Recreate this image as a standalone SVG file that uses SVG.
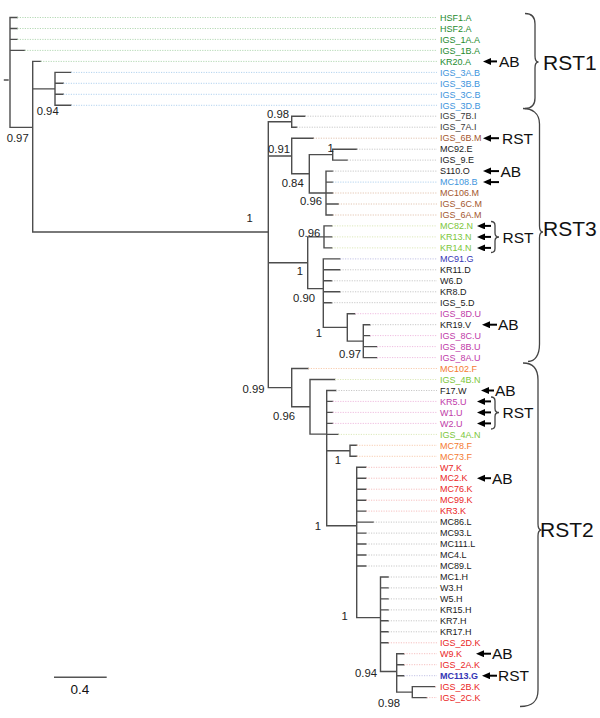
<svg xmlns="http://www.w3.org/2000/svg" width="600" height="718" viewBox="0 0 600 718">
<style>
.br{fill:none;stroke:#4d4d4d;stroke-width:1.4;stroke-linecap:square}
.dt{fill:none;stroke-width:1;stroke-dasharray:1.2 1.3}
.dA{stroke:#b5d9b5}.dB{stroke:#b3d3ef}.dK{stroke:#f6c0c0}.dM{stroke:#e3c6b3}.dN{stroke:#dde9bb}
.dG{stroke:#c3c3e6}.dU{stroke:#efbde0}.dF{stroke:#f8cdb0}.dX{stroke:#c8c8c8}
text{font-family:"Liberation Sans",Arial,sans-serif}
.lf{font-size:9px}
.A{fill:#238b2d}.B{fill:#3d95dd}.I{fill:#3a3a3a}.M{fill:#a4572e}.N{fill:#7cc63a}.G{fill:#3535b5}
.U{fill:#c03aa8}.F{fill:#f47a30}.K{fill:#ea2525}.X{fill:#1a1a1a}
.sp{font-size:11.3px;fill:#222}
.an{font-size:15.5px;fill:#111}
.cl{font-size:21px;fill:#111}
.ar{stroke:#000;stroke-width:2;fill:none}
.bc{fill:none;stroke:#444;stroke-width:1.3}
</style>
<defs>
<marker id="ah" markerUnits="userSpaceOnUse" markerWidth="9" markerHeight="8" refX="2" refY="3.5" orient="auto"><path d="M0,0 L8,3.5 L0,7 z" fill="#000"/></marker>
</defs>
<g id="connectors">
<path class="br" d="M4.5,80H8 M10,17.5V127.4 M10,17.5H17.3 M10,28.5H17.3 M10,39.4H17.3 M10,50.4H24.7 M10,127.4H32.7
M32.7,61.4V232.05 M32.7,61.4H40.7 M32.7,88.85H55 M32.7,232.05H268.3
M55,72.4V105.3 M55,72.4H71 M55,83.3H63.3 M55,94.3H63.3 M55,105.3H71
M268.3,121.7V387.65 M268.3,121.7H291.7 M268.3,156.05H291.7 M268.3,262.75H307.7 M268.3,387.65H291.7
M291.7,116.2V127.2 M291.7,116.2H305 M291.7,127.2H296.7
M291.7,138.2V173.8 M291.7,138.2H313.3 M291.7,173.8H309.3
M309.3,154.65V193 M309.3,154.65H332.7 M309.3,193H326
M332.7,149.2V160.1 M332.7,149.2H356.7 M332.7,160.1H347.3
M326,171.1V215 M326,171.1H332.7 M326,182.1H332.7 M326,193H332.7 M326,204H338.3 M326,215H332.7
M307.7,236.9V288.6 M307.7,236.9H324 M307.7,288.6H323.3
M324,225.9V247.9 M324,225.9H332 M324,236.9H332 M324,247.9H332
M323.3,258.9V327.4 M323.3,258.9H340 M323.3,269.8H340 M323.3,280.8H331.7 M323.3,291.8H340 M323.3,302.7H331.7 M323.3,327.4H347.3
M347.3,313.7V341.1 M347.3,313.7H355 M347.3,341.1H363.3
M363.3,324.7V357.6 M363.3,324.7H370 M363.3,335.6H370 M363.3,346.6H377 M363.3,357.6H377
M291.7,368.5V406.8 M291.7,368.5H308.3 M291.7,406.8H310
M310,379.5V434.1 M310,379.5H335 M310,434.1H326.7
M326.7,390.5V525.7 M326.7,390.5H336 M326.7,401.4H332.7 M326.7,412.4H332.7 M326.7,423.4H332.7 M326.7,434.4H338.3 M326.7,450.8H350 M326.7,525.7H356.7
M350,445.3V456.3 M350,445.3H356.7 M350,456.3H356.7
M356.7,467.3V617.6 M356.7,467.3H366 M356.7,478.2H366 M356.7,489.2H366 M356.7,500.2H366 M356.7,511.1H366 M356.7,522.1H373.3 M356.7,533.1H366 M356.7,544H366 M356.7,555H366 M356.7,566H366 M356.7,617.6H380.5
M380.5,577V671.55 M380.5,577H388.3 M380.5,587.9H388.3 M380.5,598.9H388.3 M380.5,609.9H388.3 M380.5,620.8H388.3 M380.5,631.8H388.3 M380.5,642.8H388.3 M380.5,671.55H396.7
M396.7,653.7V692.1 M396.7,653.7H404 M396.7,664.7H404 M396.7,675.7H404 M396.7,692.1H412.3
M412.3,686.6V697.6 M412.3,686.6H435 M412.3,697.6H426.7"/>
<path class="dt dA" d="M17.3,17.5H437 M17.3,28.5H437 M17.3,39.4H437 M24.7,50.4H437 M40.7,61.4H437"/>
<path class="dt dB" d="M71,72.4H437 M63.3,83.3H437 M63.3,94.3H437 M71,105.3H437 M332.7,182.1H437"/>
<path class="dt dM" d="M313.3,138.2H437 M332.7,193H437 M338.3,204H437 M332.7,215H437"/>
<path class="dt dN" d="M332,225.9H437 M332,236.9H437 M332,247.9H437 M335,379.5H437 M338.3,434.4H437"/>
<path class="dt dG" d="M340,258.9H437 M404,675.7H437"/>
<path class="dt dU" d="M355,313.7H437 M370,335.6H437 M377,346.6H437 M377,357.6H437 M332.7,401.4H437 M332.7,412.4H437 M332.7,423.4H437"/>
<path class="dt dF" d="M308.3,368.5H437 M356.7,445.3H437 M356.7,456.3H437"/>
<path class="dt dK" d="M366,467.3H437 M366,478.2H437 M366,489.2H437 M366,500.2H437 M366,511.1H437 M388.3,642.8H437 M404,653.7H437 M404,664.7H437 M435,686.6H437 M426.7,697.6H437"/>
<path class="dt dX" d="M305,116.2H437 M296.7,127.2H437 M356.7,149.2H437 M347.3,160.1H437 M332.7,171.1H437 M340,269.8H437 M331.7,280.8H437 M340,291.8H437 M331.7,302.7H437 M370,324.7H437 M336,390.5H437 M373.3,522.1H437 M366,533.1H437 M366,544H437 M366,555H437 M366,566H437 M388.3,577H437 M388.3,587.9H437 M388.3,598.9H437 M388.3,609.9H437 M388.3,620.8H437 M388.3,631.8H437"/>
</g>
<g id="leaves" class="lf">
<g id="n1"><text x="440" y="20.7" class="A">HSF1.A</text></g>
<g id="n2"><text x="440" y="31.7" class="A">HSF2.A</text></g>
<g id="n3"><text x="440" y="42.6" class="A">IGS_1A.A</text></g>
<g id="n4"><text x="440" y="53.6" class="A">IGS_1B.A</text></g>
<g id="n5"><text x="440" y="64.6" class="A">KR20.A</text></g>
<g id="n6"><text x="440" y="75.6" class="B">IGS_3A.B</text></g>
<g id="n7"><text x="440" y="86.5" class="B">IGS_3B.B</text></g>
<g id="n8"><text x="440" y="97.5" class="B">IGS_3C.B</text></g>
<g id="n9"><text x="440" y="108.5" class="B">IGS_3D.B</text></g>
<g id="n10"><text x="440" y="119.4" class="I">IGS_7B.I</text></g>
<g id="n11"><text x="440" y="130.4" class="I">IGS_7A.I</text></g>
<g id="n12"><text x="440" y="141.4" class="M">IGS_6B.M</text></g>
<g id="n13"><text x="440" y="152.4" class="X">MC92.E</text></g>
<g id="n14"><text x="440" y="163.3" class="X">IGS_9.E</text></g>
<g id="n15"><text x="440" y="174.3" class="X">S110.O</text></g>
<g id="n16"><text x="440" y="185.3" class="B">MC108.B</text></g>
<g id="n17"><text x="440" y="196.2" class="M">MC106.M</text></g>
<g id="n18"><text x="440" y="207.2" class="M">IGS_6C.M</text></g>
<g id="n19"><text x="440" y="218.2" class="M">IGS_6A.M</text></g>
<g id="n20"><text x="440" y="229.1" class="N">MC82.N</text></g>
<g id="n21"><text x="440" y="240.1" class="N">KR13.N</text></g>
<g id="n22"><text x="440" y="251.1" class="N">KR14.N</text></g>
<g id="n23"><text x="440" y="262.1" class="G">MC91.G</text></g>
<g id="n24"><text x="440" y="273" class="X">KR11.D</text></g>
<g id="n25"><text x="440" y="284" class="X">W6.D</text></g>
<g id="n26"><text x="440" y="295" class="X">KR8.D</text></g>
<g id="n27"><text x="440" y="305.9" class="X">IGS_5.D</text></g>
<g id="n28"><text x="440" y="316.9" class="U">IGS_8D.U</text></g>
<g id="n29"><text x="440" y="327.9" class="X">KR19.V</text></g>
<g id="n30"><text x="440" y="338.8" class="U">IGS_8C.U</text></g>
<g id="n31"><text x="440" y="349.8" class="U">IGS_8B.U</text></g>
<g id="n32"><text x="440" y="360.8" class="U">IGS_8A.U</text></g>
<g id="n33"><text x="440" y="371.7" class="F">MC102.F</text></g>
<g id="n34"><text x="440" y="382.7" class="N">IGS_4B.N</text></g>
<g id="n35"><text x="440" y="393.7" class="X">F17.W</text></g>
<g id="n36"><text x="440" y="404.6" class="U">KR5.U</text></g>
<g id="n37"><text x="440" y="415.6" class="U">W1.U</text></g>
<g id="n38"><text x="440" y="426.6" class="U">W2.U</text></g>
<g id="n39"><text x="440" y="437.6" class="N">IGS_4A.N</text></g>
<g id="n40"><text x="440" y="448.5" class="F">MC78.F</text></g>
<g id="n41"><text x="440" y="459.5" class="F">MC73.F</text></g>
<g id="n42"><text x="440" y="470.5" class="K">W7.K</text></g>
<g id="n43"><text x="440" y="481.4" class="K">MC2.K</text></g>
<g id="n44"><text x="440" y="492.4" class="K">MC76.K</text></g>
<g id="n45"><text x="440" y="503.4" class="K">MC99.K</text></g>
<g id="n46"><text x="440" y="514.3" class="K">KR3.K</text></g>
<g id="n47"><text x="440" y="525.3" class="X">MC86.L</text></g>
<g id="n48"><text x="440" y="536.3" class="X">MC93.L</text></g>
<g id="n49"><text x="440" y="547.2" class="X">MC111.L</text></g>
<g id="n50"><text x="440" y="558.2" class="X">MC4.L</text></g>
<g id="n51"><text x="440" y="569.2" class="X">MC89.L</text></g>
<g id="n52"><text x="440" y="580.2" class="X">MC1.H</text></g>
<g id="n53"><text x="440" y="591.1" class="X">W3.H</text></g>
<g id="n54"><text x="440" y="602.1" class="X">W5.H</text></g>
<g id="n55"><text x="440" y="613.1" class="X">KR15.H</text></g>
<g id="n56"><text x="440" y="624" class="X">KR7.H</text></g>
<g id="n57"><text x="440" y="635" class="X">KR17.H</text></g>
<g id="n58"><text x="440" y="646" class="K">IGS_2D.K</text></g>
<g id="n59"><text x="440" y="656.9" class="K">W9.K</text></g>
<g id="n60"><text x="440" y="667.9" class="K">IGS_2A.K</text></g>
<g id="n61"><text x="440" y="678.9" class="G" font-weight="bold">MC113.G</text></g>
<g id="n62"><text x="440" y="689.8" class="K">IGS_2B.K</text></g>
<g id="n63"><text x="440" y="700.8" class="K">IGS_2C.K</text></g>
</g>
<g id="supports" class="sp">
<text x="6.7" y="141.5">0.97</text>
<text x="36.7" y="115">0.94</text>
<text x="246.5" y="221.5">1</text>
<text x="267" y="118">0.98</text>
<text x="268" y="153">0.91</text>
<text x="327.5" y="152">1</text>
<text x="281.7" y="186.5">0.84</text>
<text x="300" y="205">0.96</text>
<text x="298.3" y="236.5">0.96</text>
<text x="296.8" y="275">1</text>
<text x="293" y="301.5">0.90</text>
<text x="315.8" y="336.5">1</text>
<text x="339" y="357.5">0.97</text>
<text x="264.5" y="393" text-anchor="end">0.99</text>
<text x="273" y="420">0.96</text>
<text x="334.8" y="463.5">1</text>
<text x="314.8" y="530">1</text>
<text x="341.5" y="620">1</text>
<text x="355" y="676.5">0.94</text>
<text x="378" y="707">0.98</text>
</g>
<g id="annotations">
<g id="arrows" class="ar">
<line x1="497" y1="61.4" x2="489" y2="61.4" marker-end="url(#ah)"/>
<line x1="499" y1="138.2" x2="489" y2="138.2" marker-end="url(#ah)"/>
<line x1="499" y1="171.1" x2="489" y2="171.1" marker-end="url(#ah)"/>
<line x1="499" y1="182.1" x2="489" y2="182.1" marker-end="url(#ah)"/>
<line x1="491" y1="225.9" x2="483" y2="225.9" marker-end="url(#ah)"/>
<line x1="491" y1="236.9" x2="483" y2="236.9" marker-end="url(#ah)"/>
<line x1="491" y1="247.9" x2="483" y2="247.9" marker-end="url(#ah)"/>
<line x1="497" y1="324.7" x2="488" y2="324.7" marker-end="url(#ah)"/>
<line x1="494" y1="390.5" x2="487" y2="390.5" marker-end="url(#ah)"/>
<line x1="491" y1="401.4" x2="483" y2="401.4" marker-end="url(#ah)"/>
<line x1="491" y1="412.4" x2="483" y2="412.4" marker-end="url(#ah)"/>
<line x1="491" y1="423.4" x2="483" y2="423.4" marker-end="url(#ah)"/>
<line x1="491" y1="478.2" x2="483" y2="478.2" marker-end="url(#ah)"/>
<line x1="491" y1="653.7" x2="482" y2="653.7" marker-end="url(#ah)"/>
<line x1="497" y1="675.7" x2="488" y2="675.7" marker-end="url(#ah)"/>
</g>
<path class="bc" d="M491,221.5 Q495,221.5 495,225.5 V233 Q495,237 499,237 Q495,237 495,241 V248.5 Q495,252.5 491,252.5"/>
<path class="bc" d="M491,397 Q495,397 495,401 V408.5 Q495,412.5 499,412.5 Q495,412.5 495,416.5 V425 Q495,429 491,429"/>
<g class="an">
<text x="499" y="67">AB</text>
<text x="502" y="143.7">RST</text>
<text x="500.5" y="176.6">AB</text>
<text x="502.5" y="242.5">RST</text>
<text x="498" y="330.2">AB</text>
<text x="495" y="396">AB</text>
<text x="502.5" y="418">RST</text>
<text x="492" y="483.7">AB</text>
<text x="492" y="659.2">AB</text>
<text x="498" y="681.2">RST</text>
</g>
</g>
<g id="clades">
<path class="bc" d="M525,13.5 C532,13.5 535,17 535,24 V56 C535,60 536.5,62 538.5,62 C536.5,62 535,64 535,68 V98 C535,105 532,108.5 525,108.5"/>
<path class="bc" d="M523,108.5 C532,108.5 539.5,113 539.5,124 V226 C539.5,230 541,232 543,232 C541,232 539.5,234 539.5,238 V344 C539.5,355 535,361.5 528,361.5"/>
<path class="bc" d="M523,363 C532,363 538,368 538,380 V524 C538,528 539.5,530 541.5,530 C539.5,530 538,532 538,536 V690 C538,702 532,706.5 520,706.5"/>
<text class="cl" x="543" y="70">RST1</text>
<text class="cl" x="543" y="236">RST3</text>
<text class="cl" x="540" y="536.5">RST2</text>
</g>
<g id="scale">
<line x1="54" y1="677.3" x2="106.7" y2="677.3" stroke="#555" stroke-width="1.5"/>
<text x="80" y="694" text-anchor="middle" font-size="13.5" fill="#111">0.4</text>
</g>
</svg>
